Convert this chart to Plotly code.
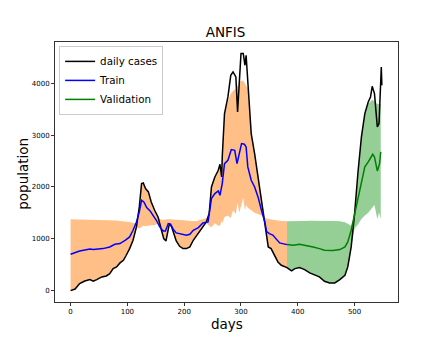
import plotly.graph_objects as go

# ======================================
# Data
# ======================================

case_days = [0, 8, 16, 25, 34, 40, 46, 55, 63, 69,
             75, 81, 87, 93, 98, 104, 110, 116, 121, 125,
             128, 132, 137, 142, 148, 154, 160, 164, 168, 171,
             174, 178, 182, 186, 192, 198, 204, 210, 216, 222,
             227, 233, 239, 244, 248, 254, 260, 263, 266, 267,
             271, 277, 282, 286, 291, 294, 297, 300, 304, 307,
             309, 312, 318, 324, 330, 336, 342, 345, 348, 353,
             359, 365, 371, 381, 389, 395, 403, 412, 421, 430,
             438, 447, 456, 465, 474, 483, 488, 494, 500, 506,
             512, 518, 524, 528, 531, 535, 540, 543, 547, 548]

cases = [0, 30, 135, 186, 212, 180, 212, 264, 283, 328,
         424, 457, 534, 585, 682, 810, 971, 1228, 1614, 2064,
         2077, 1968, 1904, 1711, 1550, 1421, 1164, 1003, 958, 1132,
         1293, 1228, 1068, 958, 855, 810, 810, 842, 971, 1068,
         1132, 1228, 1325, 1486, 2000, 2193, 2322, 2437, 2193, 2579,
         3415, 3736, 4154, 4219, 4122, 3447, 3994, 4572, 4572, 4347,
         4540, 3994, 3029, 2643, 2193, 1807, 1357, 1035, 842, 810,
         682, 553, 489, 444, 379, 424, 444, 405, 341, 296,
         264, 180, 148, 148, 212, 296, 457, 842, 1486, 2289,
         2965, 3415, 3640, 3736, 3942, 3801, 3158, 3222, 4315, 3961]

train_days = [0, 16, 34, 40, 57, 69, 78, 87, 96, 104,
              110, 116, 121, 125, 129, 134, 140, 145, 151, 157,
              163, 167, 172, 176, 181, 186, 192, 198, 204, 210,
              216, 225, 233, 242, 248, 254, 260, 263, 267, 271,
              277, 283, 289, 293, 297, 301, 306, 309, 312, 318,
              324, 330, 336, 342, 345, 350, 356, 362, 368, 381]

train_pred = [701, 765, 804, 791, 810, 842, 894, 907, 971, 1035,
              1164, 1325, 1518, 1743, 1711, 1601, 1537, 1453, 1357, 1228,
              1151, 1151, 1293, 1280, 1177, 1113, 1100, 1080, 1068, 1087,
              1164, 1215, 1305, 1325, 1775, 1871, 1923, 1839, 2064, 2450,
              2514, 2720, 2707, 2450, 2675, 2836, 2823, 2772, 2386, 2129,
              2000, 1807, 1550, 1325, 1140, 1100, 1070, 990, 920, 887]

val_days = [381, 392, 403, 415, 427, 438, 447, 462, 474, 483,
            488, 494, 500, 506, 512, 518, 524, 530, 532, 535,
            538, 540, 544, 546]

val_pred = [887, 875, 894, 875, 842, 810, 778, 772, 791, 842,
            939, 1164, 1486, 1807, 2129, 2386, 2482, 2592, 2630, 2579,
            2450, 2309, 2450, 2675]

# error band, train part
band_train_days = case_days[:74]

band_train_hi = [1376, 1375, 1372, 1370, 1368, 1368, 1366, 1365, 1360, 1358,
                 1355, 1352, 1345, 1340, 1335, 1325, 1305, 1300, 1614, 2064,
                 2077, 1968, 1904, 1711, 1550, 1421, 1360, 1370, 1375, 1375,
                 1375, 1370, 1370, 1365, 1360, 1355, 1350, 1345, 1340, 1340,
                 1360, 1385, 1395, 1486, 2000, 2193, 2322, 2437, 2193, 2579,
                 3415, 3650, 3800, 3850, 3900, 3950, 4000, 4050, 4050, 3980,
                 3950, 3900, 3029, 2643, 2193, 1807, 1400, 1390, 1380, 1370,
                 1360, 1350, 1345, 1340]

band_train_lo = [0, 30, 135, 186, 212, 180, 212, 264, 283, 328,
                 424, 457, 534, 585, 682, 810, 971, 1228, 1200, 1230,
                 1250, 1240, 1250, 1260, 1260, 1300, 1164, 1003, 958, 1132,
                 1293, 1228, 1068, 958, 855, 810, 810, 842, 971, 1068,
                 1132, 1228, 1300, 1250, 1220, 1300, 1250, 1250, 1350, 1300,
                 1420, 1450, 1400, 1550, 1480, 1700, 1500, 1650, 1800, 1550,
                 1650, 1600, 1550, 1500, 1480, 1450, 1357, 1035, 842, 810,
                 682, 553, 489, 444]

# error band, validation part
band_val_days = [381, 389, 395, 403, 412, 421, 430, 438, 447, 456,
                 465, 474, 483, 488, 494, 500, 506, 512, 518, 524,
                 528, 531, 535, 540, 543, 546]

band_val_hi = [1340, 1338, 1340, 1342, 1345, 1348, 1350, 1352, 1350, 1348,
               1345, 1340, 1320, 1290, 1250, 1486, 2289, 2965, 3415, 3600,
               3650, 3680, 3650, 3600, 3600, 3600]

band_val_lo = [444, 379, 424, 444, 405, 341, 296, 264, 180, 148,
               148, 212, 296, 457, 842, 1200, 1280, 1380, 1450, 1500,
               1550, 1600, 1650, 1380, 1500, 1380]

FONT = "DejaVu Sans"

# page body has an 8px margin, so the figure is 8px smaller
# and the left/top margins are reduced by the same amount
WIDTH = 435
HEIGHT = 337

fig = go.Figure()

# ======================================
# Bands
# ======================================

fig.add_trace(
    go.Scatter(
        x=band_train_days + band_train_days[::-1],
        y=band_train_hi + band_train_lo[::-1],
        fill="toself",
        fillcolor="#ffbf86",
        line=dict(width=0),
        mode="lines",
        hoverinfo="skip",
        showlegend=False
    )
)

fig.add_trace(
    go.Scatter(
        x=band_val_days + band_val_days[::-1],
        y=band_val_hi + band_val_lo[::-1],
        fill="toself",
        fillcolor="#95cf95",
        line=dict(width=0),
        mode="lines",
        hoverinfo="skip",
        showlegend=False
    )
)

# ======================================
# Lines
# ======================================

fig.add_trace(
    go.Scatter(
        x=case_days,
        y=cases,
        mode="lines",
        name="daily cases",
        line=dict(color="black", width=1.5)
    )
)

fig.add_trace(
    go.Scatter(
        x=train_days,
        y=train_pred,
        mode="lines",
        name="Train",
        line=dict(color="blue", width=1.5)
    )
)

fig.add_trace(
    go.Scatter(
        x=val_days,
        y=val_pred,
        mode="lines",
        name="Validation",
        line=dict(color="green", width=1.5)
    )
)

# ======================================
# Layout
# ======================================

axis_style = dict(
    showline=True,
    mirror=True,
    linecolor="#333333",
    linewidth=1,
    ticks="outside",
    ticklen=3,
    tickwidth=1,
    tickcolor="#333333",
    showgrid=False,
    zeroline=False,
    tickfont=dict(family=FONT, size=7, color="black")
)

fig.update_xaxes(
    range=[-27.4, 576.4],
    tickvals=[0, 100, 200, 300, 400, 500],
    **axis_style
)

fig.update_yaxes(
    range=[-220, 4796],
    tickvals=[0, 1000, 2000, 3000, 4000],
    **axis_style
)

fig.update_layout(
    width=WIDTH,
    height=HEIGHT,
    margin=dict(l=47, r=45, t=34, b=43),
    paper_bgcolor="white",
    plot_bgcolor="white",
    title=dict(
        text="ANFIS",
        x=0.5,
        xanchor="center",
        y=1 - 24.7 / HEIGHT,
        yanchor="middle",
        yref="container",
        font=dict(family=FONT, size=13.5, color="black")
    ),
    legend=dict(
        x=0.012,
        y=0.985,
        xanchor="left",
        yanchor="top",
        bgcolor="rgba(255,255,255,0.8)",
        bordercolor="#cccccc",
        borderwidth=1,
        font=dict(family=FONT, size=10.3, color="black"),
        itemwidth=30,
        tracegroupgap=0
    ),
    annotations=[
        dict(
            text="days",
            xref="paper",
            yref="paper",
            x=0.5,
            y=-0.085,
            xanchor="center",
            yanchor="middle",
            showarrow=False,
            font=dict(family=FONT, size=13.5, color="black")
        ),
        dict(
            text="population",
            xref="paper",
            yref="paper",
            x=-0.092,
            y=0.495,
            xanchor="center",
            yanchor="middle",
            textangle=-90,
            showarrow=False,
            font=dict(family=FONT, size=13.5, color="black")
        )
    ]
)

fig.write_html("out.html")
